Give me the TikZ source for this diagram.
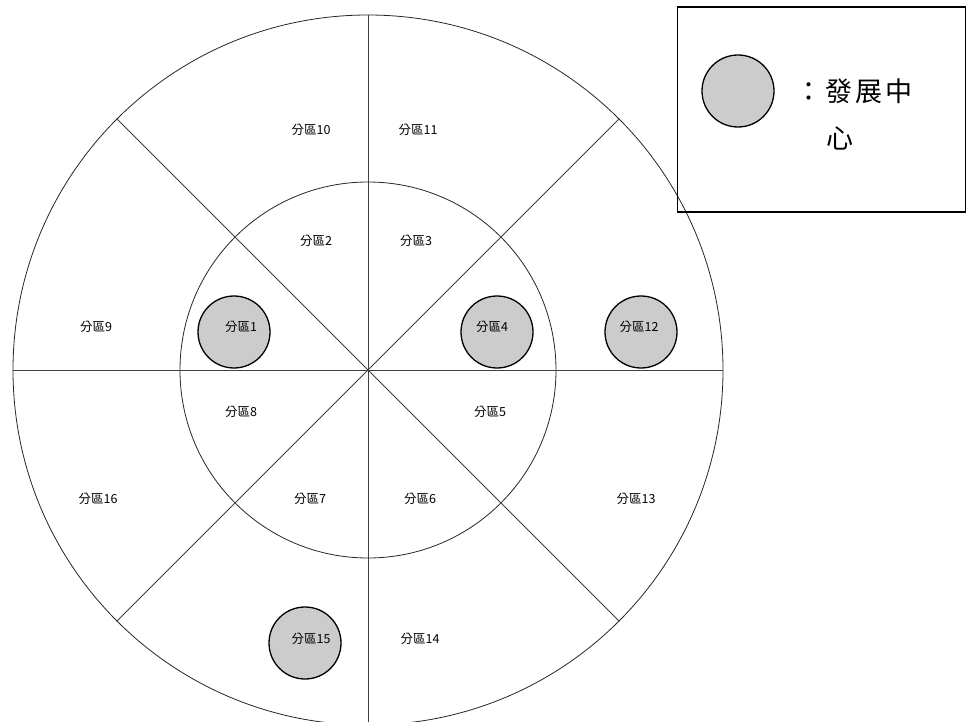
\documentclass[tikz,border=0pt]{standalone}
\usepackage{fontspec}
\newfontfamily\cjk{Noto Sans CJK TC}
\begin{document}
\begin{tikzpicture}[x=1pt,y=-1pt,
  lbl/.style={font=\cjk\fontsize{12.5}{14}\selectfont, inner sep=0pt},
  hub/.style={circle, draw=black, line width=1.3pt, fill=gray!40, minimum size=72pt, inner sep=0pt},
  ring/.style={circle, draw=black!85, line width=0.8pt, inner sep=0pt},
  spoke/.style={draw=black!75, line width=0.8pt}]
\useasboundingbox (0,0) rectangle (967,722);
\begin{scope}
\clip (0,0) rectangle (967,722);
\coordinate (c) at (368,370);
\node[ring, minimum size=710pt] (outer) at (c) {};
\node[ring, minimum size=376pt] (inner) at (c) {};
\draw[spoke, line width=1pt] (outer.north) -- (outer.south);
\draw[spoke] (outer.west) -- (outer.east);
\draw[spoke] (outer.135) -- (outer.-45);
\draw[spoke] (outer.45) -- (outer.225);
\end{scope}
% development centres
\node[hub] (h1) at (234,332) {};
\node[hub] (h4) at (497,332) {};
\node[hub] (h12) at (641,332) {};
\node[hub] (h15) at (305,643) {};
% labels
\node[lbl] (l10) at (311,130) {分區10};
\node[lbl] (l11) at (418,130) {分區11};
\node[lbl] (l2) at (316,241) {分區2};
\node[lbl] (l3) at (416,241) {分區3};
\node[lbl] (l9) at (96,327) {分區9};
\node[lbl] (l1) at (241,327) {分區1};
\node[lbl] (l4) at (492,327) {分區4};
\node[lbl] (l12) at (639,327) {分區12};
\node[lbl] (l8) at (241,412) {分區8};
\node[lbl] (l5) at (490,412) {分區5};
\node[lbl] (l16) at (98,499) {分區16};
\node[lbl] (l7) at (310,499) {分區7};
\node[lbl] (l6) at (420,499) {分區6};
\node[lbl] (l13) at (636,499) {分區13};
\node[lbl] (l15) at (311,639) {分區15};
\node[lbl] (l14) at (420,639) {分區14};
% legend
\node[draw=black, line width=1.3pt, minimum width=288pt, minimum height=205pt, inner sep=0pt] (legend) at (821.5,109.5) {};
\node[hub] (lh) at (738,91) {};
\node[font=\cjk\fontsize{27}{30}\selectfont, inner sep=0pt, anchor=west] (lt1) at (795,91) {：\hspace{3pt}發\hspace{3pt}展\hspace{3pt}中};
\node[font=\cjk\fontsize{27}{30}\selectfont, inner sep=0pt] (lt2) at (840,138) {心};
\end{tikzpicture}
\end{document}
